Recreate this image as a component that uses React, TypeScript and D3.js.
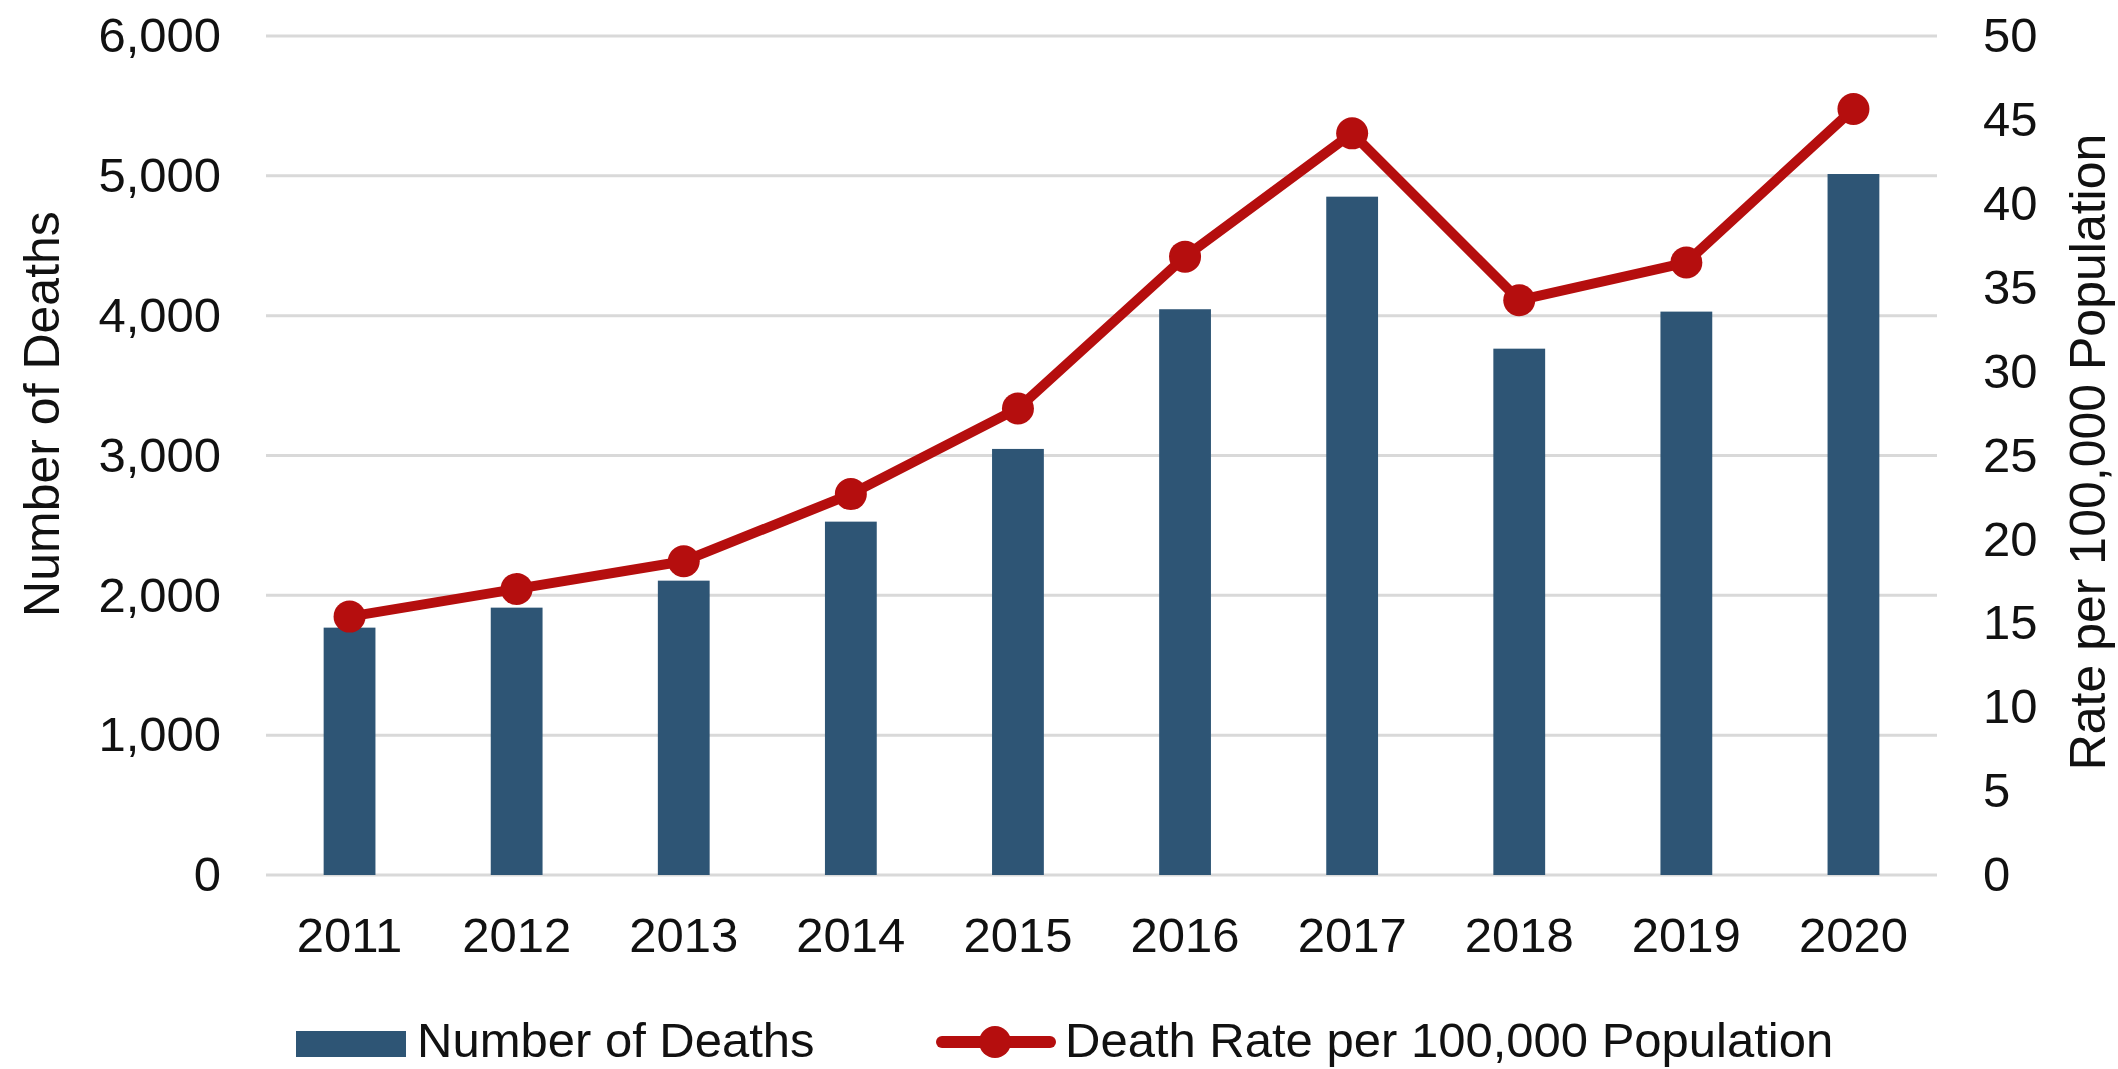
import React, {useRef, useEffect} from 'react'
import * as d3 from "d3";

// values
const years = ["2011", "2012", "2013", "2014", "2015", "2016", "2017", "2018", "2019", "2020"];
const deaths = [1769, 1912, 2105, 2527, 3047, 4046, 4851, 3764, 4029, 5013];
const rates = [15.4, 17.05, 18.7, 22.7, 27.8, 36.85, 44.2, 34.25, 36.5, 45.65];
const deathTicks = [0, 1000, 2000, 3000, 4000, 5000, 6000];
const rateTicks = [0, 5, 10, 15, 20, 25, 30, 35, 40, 45, 50];

const App = () => {
  const svgRef = useRef<SVGSVGElement>(null);

  useEffect(() => {
    const width = 2118;
    const height = 1069;
    const left = 266, right = 1937, top = 36, bottom = 875;
    const font = "'Liberation Sans', Arial, sans-serif";
    const barColor = "#2e5575";
    const lineColor = "#b50e0e";

    const svg = d3.select(svgRef.current);
    svg.selectAll("*").remove();
    svg.attr("width", width).attr("height", height)
      .attr("font-family", font);

    const x = d3.scaleBand<string>()
      .domain(years)
      .range([left, right])
      .paddingInner(0.69)
      .paddingOuter(0.345);

    const y = d3.scaleLinear().domain([0, 6000]).range([bottom, top]);
    const y2 = d3.scaleLinear().domain([0, 50]).range([bottom, top]);

    // gridlines
    svg.append("g")
      .selectAll("line")
      .data(deathTicks)
      .join("line")
        .attr("x1", left).attr("x2", right)
        .attr("y1", d => y(d)).attr("y2", d => y(d))
        .attr("stroke", "#d9d9d9")
        .attr("stroke-width", 3);

    // left axis
    const yAxis = svg.append("g")
      .attr("transform", `translate(${left},0)`)
      .call(d3.axisLeft(y).tickValues(deathTicks).tickFormat(d3.format(",")).tickSize(0).tickPadding(45));
    yAxis.select(".domain").remove();
    yAxis.selectAll("text").attr("font-size", 49).attr("fill", "#111").attr("font-family", font);

    // right axis
    const y2Axis = svg.append("g")
      .attr("transform", `translate(${right},0)`)
      .call(d3.axisRight(y2).tickValues(rateTicks).tickSize(0).tickPadding(46));
    y2Axis.select(".domain").remove();
    y2Axis.selectAll("text").attr("font-size", 49).attr("fill", "#111").attr("font-family", font);

    // bottom axis labels
    const xAxis = svg.append("g")
      .attr("transform", `translate(0,${bottom})`)
      .call(d3.axisBottom(x).tickSize(0).tickPadding(42));
    xAxis.select(".domain").remove();
    xAxis.selectAll("text").attr("font-size", 49).attr("fill", "#111").attr("font-family", font);

    // bars
    svg.append("g")
      .attr("fill", barColor)
      .selectAll("rect")
      .data(deaths)
      .join("rect")
        .attr("x", (d, i) => x(years[i]) as number)
        .attr("y", d => y(d))
        .attr("width", x.bandwidth())
        .attr("height", d => y(0) - y(d));

    // rate line
    const cx = (i: number) => (x(years[i]) as number) + x.bandwidth() / 2;
    const line = d3.line<number>()
      .x((d, i) => cx(i))
      .y(d => y2(d));

    svg.append("path")
      .datum(rates)
      .attr("d", line)
      .attr("fill", "none")
      .attr("stroke", lineColor)
      .attr("stroke-width", 10)
      .attr("stroke-linejoin", "round");

    svg.append("g")
      .attr("fill", lineColor)
      .selectAll("circle")
      .data(rates)
      .join("circle")
        .attr("cx", (d, i) => cx(i))
        .attr("cy", d => y2(d))
        .attr("r", 16);

    // axis titles
    svg.append("text")
      .attr("transform", `translate(59,414) rotate(-90)`)
      .attr("text-anchor", "middle")
      .attr("font-size", 50)
      .attr("fill", "#111")
      .text("Number of Deaths");

    svg.append("text")
      .attr("transform", `translate(2105,452) rotate(-90)`)
      .attr("text-anchor", "middle")
      .attr("font-size", 50)
      .attr("fill", "#111")
      .text("Rate per 100,000 Population");

    // legend
    const legend = svg.append("g");
    legend.append("rect")
      .attr("x", 296).attr("y", 1031)
      .attr("width", 110).attr("height", 26)
      .attr("fill", barColor);
    legend.append("text")
      .attr("x", 417).attr("y", 1057)
      .attr("font-size", 49)
      .attr("fill", "#111")
      .text("Number of Deaths");

    legend.append("line")
      .attr("x1", 942).attr("x2", 1050)
      .attr("y1", 1042).attr("y2", 1042)
      .attr("stroke", lineColor)
      .attr("stroke-width", 12)
      .attr("stroke-linecap", "round");
    legend.append("circle")
      .attr("cx", 995).attr("cy", 1042).attr("r", 16)
      .attr("fill", lineColor);
    legend.append("text")
      .attr("x", 1065).attr("y", 1057)
      .attr("font-size", 49)
      .attr("fill", "#111")
      .text("Death Rate per 100,000 Population");
  }, []);

  return (
    <svg ref={svgRef} style={{position: "absolute", left: 0, top: 0, background: "#fff"}}/>
  );
}

export default App;
